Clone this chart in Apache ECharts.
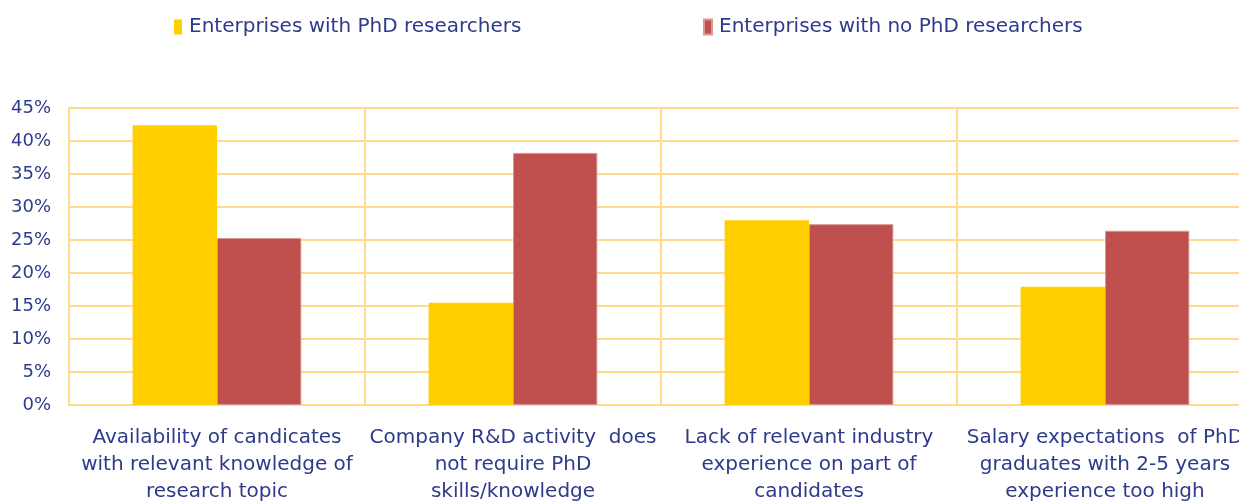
<!DOCTYPE html>
<html>
<head>
<meta charset="utf-8">
<script src="https://cdn.jsdelivr.net/npm/echarts@6/dist/echarts.min.js"></script>
<style>
  html, body { margin: 0; padding: 0; background: #fff; }
  #grafico { width: 1239px; height: 501px; }
</style>
</head>
<body>
<div id="grafico"></div>
<script>
// datos
const categorias = [
    "Availability of candicates\nwith relevant knowledge of\nresearch topic",
    "Company R&D activity  does\nnot require PhD\nskills/knowledge",
    "Lack of relevant industry\nexperience on part of\ncandidates",
    "Salary expectations  of PhD\ngraduates with 2-5 years\nexperience too high"
];
const nombresSeries = ["Enterprises with PhD researchers", "Enterprises with no PhD researchers"];
const conPhD = [42.4, 15.5, 28.0, 17.9];
const sinPhD = [25.3, 38.2, 27.4, 26.4];
const ticksY = [0, 5, 10, 15, 20, 25, 30, 35, 40, 45];

const azul = '#2E3A8C';
const lineaGrid = '#FFD98C';
const fuente = "'DejaVu Sans', sans-serif";

// una leyenda por serie, para colocarlas como en el original
const leyenda = (nombre, izq) => ({
    top: 12,
    left: izq,
    itemWidth: 8,
    itemHeight: 15,
    icon: 'rect',
    textStyle: { color: azul, fontSize: 20, fontFamily: fuente, padding: [0, 0, 0, 2] },
    data: [nombre]
});

const chart = echarts.init(document.getElementById('grafico'));
chart.setOption({
    animation: false,
    legend: [leyenda(nombresSeries[0], 169), leyenda(nombresSeries[1], 698)],
    grid: { left: 69, right: -14, top: 108, bottom: 96, outerBoundsMode: 'none', containLabel: false },
    xAxis: {
        type: 'category',
        data: categorias,
        boundaryGap: true,
        axisLine: { show: true, lineStyle: { color: lineaGrid, width: 2 } },
        axisTick: { show: false },
        splitLine: { show: true, lineStyle: { color: lineaGrid, width: 2 } },
        axisLabel: {
            color: azul, fontSize: 20, fontFamily: fuente,
            lineHeight: 27, margin: 19, interval: 0
        }
    },
    yAxis: {
        type: 'value',
        min: ticksY[0],
        max: ticksY[ticksY.length - 1],
        interval: 5,
        axisLine: { show: true, lineStyle: { color: lineaGrid, width: 2 } },
        axisTick: { show: false },
        splitLine: { show: true, lineStyle: { color: lineaGrid, width: 2 } },
        axisLabel: {
            color: azul, fontSize: 18, fontFamily: fuente, margin: 18,
            formatter: v => v + '%'
        }
    },
    series: [
        {
            name: nombresSeries[0], type: 'bar', data: conPhD,
            barWidth: '28.5%', barGap: '0%',
            itemStyle: { color: '#FFCF00' }
        },
        {
            name: nombresSeries[1], type: 'bar', data: sinPhD,
            barWidth: '28.5%', barGap: '0%',
            itemStyle: { color: '#C0504D', borderColor: '#D99894', borderWidth: 1 }
        }
    ]
});
</script>
</body>
</html>
